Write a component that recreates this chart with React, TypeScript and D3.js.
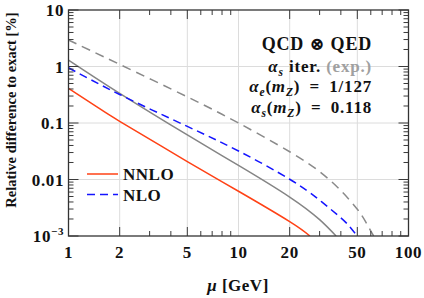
import { useEffect, useRef } from 'react';
import * as d3 from 'd3';

// series (mu in GeV, relative difference in %)
const muNNLO = [1, 1.5, 2, 5, 10, 20, 26.3];
const valNNLO = [0.41, 0.185, 0.107, 0.0208, 0.0062, 0.0018, 0.001];

const muNLO = [1, 2, 5, 10, 20, 30, 40, 45, 50];
const valNLO = [0.95, 0.32, 0.087, 0.032, 0.0101, 0.0043, 0.0021, 0.00147, 0.001];

const muGraySolid = [1, 2, 5, 10, 20, 30, 37.5];
const valGraySolid = [1.3, 0.335, 0.0615, 0.0178, 0.0049, 0.00195, 0.001];

const muGrayDash = [1, 2, 5, 10, 20, 30, 40, 50, 56, 61, 62.5];
const valGrayDash = [2.94, 1.09, 0.29, 0.1, 0.031, 0.0138, 0.00635, 0.00297, 0.00178, 0.00112, 0.001];

const xTicksMajor = [1, 2, 5, 10, 20, 50, 100];
const xTickLabels = ['1', '2', '5', '10', '20', '50', '100'];
const yTicksMajor = [10, 1, 0.1, 0.01, 0.001];
const yTickLabels = ['10', '1', '0.1', '0.01', ''];

const FONT = '"Liberation Serif", "DejaVu Serif", serif';

export default function App() {
    const svgRef = useRef<SVGSVGElement>(null);

    useEffect(() => {
        document.body.style.margin = '0';
        if (!svgRef.current) return;

        const W = 424, H = 298;
        const m = { left: 68.5, right: 408.5, top: 10, bottom: 236 };

        const x = d3.scaleLog().domain([1, 100]).range([m.left, m.right]);
        const y = d3.scaleLog().domain([0.001, 10]).range([m.bottom, m.top]);

        const svg = d3.select(svgRef.current);
        svg.selectAll('*').remove();
        svg.attr('width', W).attr('height', H).style('font-family', FONT);

        svg.append('defs').append('clipPath').attr('id', 'plot-clip')
            .append('rect').attr('x', m.left).attr('y', m.top)
            .attr('width', m.right - m.left).attr('height', m.bottom - m.top);

        // Grid
        const grid = svg.append('g').attr('stroke', '#dcdcdc').attr('stroke-width', 1);
        xTicksMajor.slice(1, -1).forEach(t => {
            grid.append('line').attr('x1', x(t)).attr('x2', x(t)).attr('y1', m.top).attr('y2', m.bottom);
        });
        yTicksMajor.slice(1, -1).forEach(t => {
            grid.append('line').attr('x1', m.left).attr('x2', m.right).attr('y1', y(t)).attr('y2', y(t));
        });

        // Curves
        const line = d3.line<[number, number]>()
            .x(d => x(d[0])).y(d => y(d[1]))
            .curve(d3.curveNatural);
        const curves = svg.append('g').attr('clip-path', 'url(#plot-clip)').attr('fill', 'none');
        const series: [number[], number[], string, string | null][] = [
            [muGrayDash, valGrayDash, '#8a8a8a', '9,6'],
            [muGraySolid, valGraySolid, '#858585', null],
            [muNLO, valNLO, '#1414ff', '8,5'],
            [muNNLO, valNNLO, '#ff4216', null],
        ];
        series.forEach(([mu, val, color, dash]) => {
            const p = curves.append('path')
                .attr('d', line(mu.map((v, i) => [v, val[i]] as [number, number])))
                .attr('stroke', color).attr('stroke-width', 1.5);
            if (dash) p.attr('stroke-dasharray', dash);
        });

        // Ticks (inward, all four sides)
        const ticks = svg.append('g').attr('stroke', '#3a3a3a').attr('stroke-width', 1);
        const xMinor: number[] = [];
        [1, 10].forEach(dec => d3.range(2, 10).forEach(k => xMinor.push(dec * k)));
        xMinor.forEach(t => {
            const len = xTicksMajor.includes(t) ? 9 : 5;
            ticks.append('line').attr('x1', x(t)).attr('x2', x(t)).attr('y1', m.bottom).attr('y2', m.bottom - len);
            ticks.append('line').attr('x1', x(t)).attr('x2', x(t)).attr('y1', m.top).attr('y2', m.top + len);
        });
        const yMinor: number[] = [];
        [0.001, 0.01, 0.1, 1].forEach(dec => d3.range(2, 10).forEach(k => yMinor.push(dec * k)));
        yMinor.forEach(t => {
            ticks.append('line').attr('x1', m.left).attr('x2', m.left + 5).attr('y1', y(t)).attr('y2', y(t));
            ticks.append('line').attr('x1', m.right).attr('x2', m.right - 5).attr('y1', y(t)).attr('y2', y(t));
        });
        yTicksMajor.forEach(t => {
            ticks.append('line').attr('x1', m.left).attr('x2', m.left + 10).attr('y1', y(t)).attr('y2', y(t));
            ticks.append('line').attr('x1', m.right).attr('x2', m.right - 10).attr('y1', y(t)).attr('y2', y(t));
        });

        // Frame
        svg.append('rect').attr('x', m.left).attr('y', m.top)
            .attr('width', m.right - m.left).attr('height', m.bottom - m.top)
            .attr('fill', 'none').attr('stroke', '#333').attr('stroke-width', 1.3);

        // Tick labels
        xTicksMajor.forEach((t, i) => {
            svg.append('text').attr('x', x(t)).attr('y', 258)
                .attr('text-anchor', 'middle').attr('font-size', 17).attr('font-weight', 'bold')
                .attr('letter-spacing', 0.6).attr('fill', '#111').text(xTickLabels[i]);
        });
        yTicksMajor.forEach((t, i) => {
            const tx = svg.append('text').attr('x', 64).attr('y', y(t) + 6)
                .attr('text-anchor', 'end').attr('font-size', 17).attr('font-weight', 'bold')
                .attr('letter-spacing', 0.6).attr('fill', '#111');
            if (yTickLabels[i]) tx.text(yTickLabels[i]);
            else {
                tx.append('tspan').text('10');
                tx.append('tspan').attr('font-size', 11).attr('dy', -7).text('\u22123');
            }
        });

        // Axis titles
        svg.append('text').attr('x', 238).attr('y', 291)
            .attr('text-anchor', 'middle').attr('font-size', 17).attr('font-weight', 'bold')
            .attr('letter-spacing', 0.5).attr('fill', '#111')
            .call(t => {
                t.append('tspan').attr('font-style', 'italic').text('\u03bc');
                t.append('tspan').text(' [GeV]');
            });
        svg.append('text')
            .attr('transform', 'translate(16,110) rotate(-90)')
            .attr('text-anchor', 'middle').attr('font-size', 14.5).attr('font-weight', 'bold')
            .attr('fill', '#111').text('Relative difference to exact [%]');

        // Annotation block
        const ax = 372;
        const note = svg.append('g').attr('font-weight', 'bold').attr('fill', '#111').attr('text-anchor', 'end');
        note.append('text').attr('x', ax).attr('y', 49.5).attr('font-size', 18)
            .attr('letter-spacing', 0.8).text('QCD \u2297 QED');
        const sub = (t: d3.Selection<SVGTextElement, unknown, null, undefined>, s: string) => {
            t.append('tspan').attr('font-size', 11.5).attr('dy', 4).attr('font-style', 'italic').text(s);
        };
        const l2 = note.append('text').attr('x', ax).attr('y', 71.5).attr('font-size', 17).attr('letter-spacing', 0.8);
        l2.append('tspan').attr('font-style', 'italic').text('\u03b1');
        sub(l2, 's');
        l2.append('tspan').attr('dy', -4).text(' iter. ');
        l2.append('tspan').attr('fill', '#a0a0a0').text('(exp.)');

        const coupling = (yy: number, s: string, val: string) => {
            const t = note.append('text').attr('x', ax).attr('y', yy).attr('font-size', 17).attr('letter-spacing', 0.8);
            t.append('tspan').attr('font-style', 'italic').text('\u03b1');
            sub(t, s);
            t.append('tspan').attr('dy', -4).text('(');
            t.append('tspan').attr('font-style', 'italic').text('m');
            sub(t, 'Z');
            t.append('tspan').attr('dy', -4).text(')\u2002=\u2002' + val);
        };
        coupling(92, 'e', '1/127');
        coupling(112.5, 's', '0.118');

        // Legend
        const leg = svg.append('g');
        const legItems: [string, string, string | null, number][] = [
            ['NNLO', '#ff4216', null, 174],
            ['NLO', '#1414ff', '8,5', 194.5],
        ];
        legItems.forEach(([label, color, dash, ly]) => {
            const l = leg.append('line').attr('x1', 87).attr('x2', 118).attr('y1', ly).attr('y2', ly)
                .attr('stroke', color).attr('stroke-width', 1.5);
            if (dash) l.attr('stroke-dasharray', dash);
            leg.append('text').attr('x', 123).attr('y', ly + 6).attr('font-size', 17)
                .attr('font-weight', 'bold').attr('letter-spacing', 0.5).attr('fill', '#111').text(label);
        });
    }, []);

    return <svg ref={svgRef} style={{ display: 'block' }} />;
}
